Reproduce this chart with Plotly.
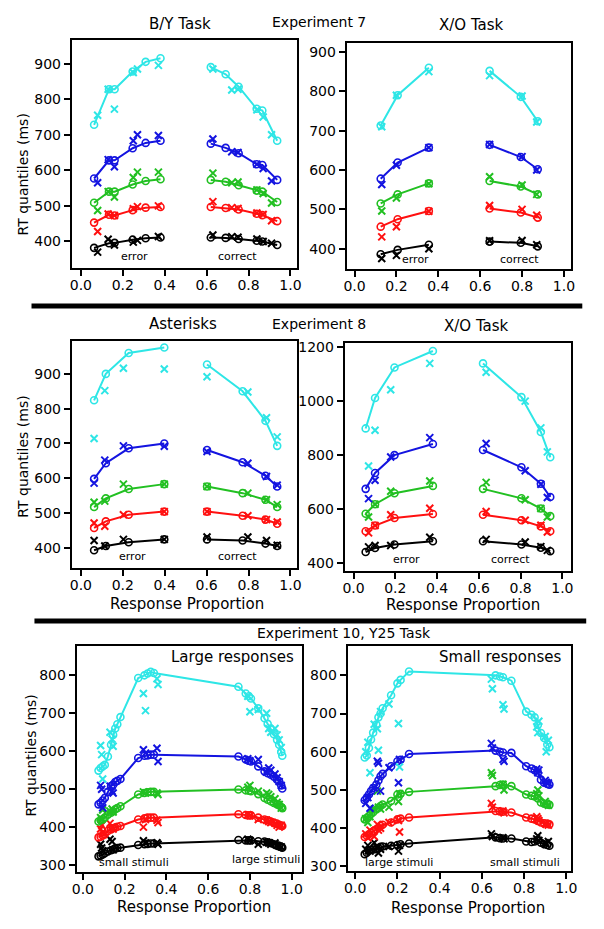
import plotly.graph_objects as go

W, H = 604, 929

# ---------------- data ----------------
# quantile order: .1 (black), .3 (red), .5 (green), .7 (blue), .9 (cyan)
QCOLORS = ["#000000", "#ff1010", "#22c022", "#1414e0", "#2ee6e6"]

# Experiment 7, B/Y task
E7BY_MP_ERR = [0.063, 0.134, 0.161, 0.247, 0.309, 0.38]
E7BY_MP_COR = [0.62, 0.691, 0.753, 0.839, 0.866, 0.937]
E7BY_M_ERR = [[382, 395, 396, 405, 409, 411], [453, 475, 473, 488, 495, 497],
              [509, 540, 540, 560, 570, 575], [577, 628, 628, 662, 677, 683],
              [728, 828, 828, 878, 905, 915]]
E7BY_M_COR = [[411, 410, 407, 402, 400, 390], [497, 494, 490, 478, 474, 457],
              [573, 568, 558, 543, 540, 511], [675, 663, 648, 617, 615, 573],
              [890, 870, 835, 773, 768, 683]]
E7BY_DP_ERR = [0.08, 0.13, 0.16, 0.25, 0.27, 0.37]
E7BY_DP_COR = [0.63, 0.72, 0.75, 0.84, 0.87, 0.91]
E7BY_D_ERR = [[370, 406, 390, 398, 403, 414], [428, 477, 473, 492, 498, 500],
              [487, 540, 525, 580, 595, 595], [565, 630, 610, 683, 700, 698],
              [755, 828, 772, 875, 885, 895]]
E7BY_D_COR = [[418, 413, 412, 407, 400, 395], [512, 495, 493, 480, 476, 458],
              [592, 565, 567, 545, 535, 508], [688, 652, 650, 617, 605, 570],
              [885, 826, 828, 770, 750, 700]]

# Experiment 7, X/O task
E7XO_MP_ERR = [0.125, 0.206, 0.355]
E7XO_MP_COR = [0.645, 0.794, 0.875]
E7XO_M_ERR = [[386, 397, 410], [456, 475, 496], [515, 538, 566], [578, 619, 657], [713, 790, 860]]
E7XO_M_COR = [[418, 415, 406], [502, 492, 479], [572, 558, 538], [664, 633, 602], [852, 786, 724]]
E7XO_DP_ERR = [0.13, 0.20, 0.355]
E7XO_DP_COR = [0.645, 0.80, 0.87]
E7XO_D_ERR = [[375, 383, 400], [430, 456, 495], [496, 529, 565], [563, 612, 657], [710, 790, 850]]
E7XO_D_COR = [[420, 421, 410], [510, 500, 485], [583, 562, 538], [665, 634, 600], [840, 788, 722]]

# Experiment 8, Asterisks
E8AS_MP_ERR = [0.063, 0.119, 0.228, 0.398]
E8AS_MP_COR = [0.602, 0.772, 0.881, 0.937]
E8AS_M_ERR = [[393, 405, 416, 424], [457, 476, 495, 504], [517, 542, 569, 583],
              [598, 643, 686, 700], [824, 900, 960, 976]]
E8AS_M_COR = [[424, 421, 412, 405], [504, 492, 481, 469], [576, 557, 538, 517],
              [681, 646, 607, 576], [927, 850, 765, 693]]
E8AS_DP_ERR = [0.063, 0.114, 0.203, 0.398]
E8AS_DP_COR = [0.602, 0.797, 0.886, 0.937]
E8AS_D_ERR = [[421, 405, 424, 424], [471, 462, 495, 504], [531, 534, 583, 583],
              [586, 652, 693, 692], [714, 852, 916, 914]]
E8AS_D_COR = [[431, 431, 421, 407], [504, 492, 481, 474], [576, 557, 538, 524],
              [677, 643, 605, 580], [892, 848, 774, 719]]

# Experiment 8, X/O task
E8XO_MP_ERR = [0.058, 0.103, 0.196, 0.38]
E8XO_MP_COR = [0.62, 0.804, 0.897, 0.942]
E8XO_M_ERR = [[442, 457, 470, 482], [519, 540, 568, 583], [584, 619, 660, 687],
              [676, 735, 801, 842], [900, 1013, 1126, 1187]]
E8XO_M_COR = [[482, 470, 458, 445], [580, 560, 537, 519], [676, 641, 603, 575],
              [820, 756, 695, 646], [1141, 1016, 887, 793]]
E8XO_DP_ERR = [0.072, 0.103, 0.178, 0.365]
E8XO_DP_COR = [0.635, 0.822, 0.897, 0.928]
E8XO_D_ERR = [[461, 466, 466, 497], [513, 540, 580, 604], [572, 619, 667, 705],
              [640, 708, 794, 866], [761, 893, 1043, 1141]]
E8XO_D_COR = [[489, 479, 462, 448], [592, 560, 541, 516], [700, 636, 603, 572],
              [844, 743, 693, 644], [1108, 1001, 902, 813]]

# Experiment 10, Y25 task, large responses
E10L_MP_LEFT = [0.075, 0.085, 0.095, 0.105, 0.12, 0.135, 0.145, 0.155, 0.165, 0.18, 0.265, 0.295, 0.31, 0.325, 0.34]
E10L_MP_RIGHT = [0.745, 0.78, 0.795, 0.805, 0.84, 0.87, 0.885, 0.9, 0.915, 0.93, 0.94, 0.95, 0.955]
E10L_M_LEFT = [[323, 325, 328, 331, 336, 339, 341, 344, 345, 346, 353, 355, 356, 357, 357],
               [373, 375, 378, 381, 390, 394, 397, 399, 401, 403, 420, 423, 425, 425, 425],
               [415, 418, 421, 425, 433, 438, 442, 447, 450, 455, 486, 490, 492, 493, 493],
               [460, 464, 470, 477, 493, 508, 512, 519, 522, 527, 582, 588, 589, 591, 591],
               [549, 556, 560, 564, 586, 617, 643, 660, 671, 690, 793, 800, 805, 809, 806]]
E10L_M_RIGHT = [[366, 365, 365, 365, 363, 362, 360, 358, 355, 352, 350, 348, 346],
                [434, 432, 431, 431, 425, 420, 418, 415, 412, 409, 406, 404, 403],
                [499, 497, 496, 495, 487, 477, 472, 468, 464, 460, 458, 453, 450],
                [586, 578, 575, 573, 560, 547, 542, 538, 533, 525, 521, 510, 502],
                [770, 752, 745, 739, 713, 687, 672, 660, 645, 630, 617, 598, 588]]
E10L_DP_LEFT = [0.085, 0.09, 0.095, 0.13, 0.14, 0.145, 0.29, 0.30, 0.355, 0.36]
E10L_DP_RIGHT = [0.79, 0.80, 0.84, 0.88, 0.89, 0.90, 0.92, 0.93, 0.94, 0.95]
E10L_D_LEFT = [[355, 345, 338, 368, 362, 340, 364, 358, 359, 355],
               [395, 405, 385, 410, 400, 395, 400, 420, 418, 412],
               [425, 420, 445, 442, 448, 440, 493, 490, 490, 486],
               [510, 500, 451, 508, 495, 490, 604, 595, 608, 573],
               [615, 591, 527, 650, 632, 613, 752, 707, 791, 776]]
E10L_D_RIGHT = [[368, 365, 355, 360, 358, 355, 358, 352, 350, 348],
                [433, 430, 420, 418, 415, 412, 410, 405, 400, 405],
                [505, 510, 495, 490, 486, 480, 475, 465, 460, 450],
                [580, 575, 578, 545, 556, 550, 540, 530, 520, 510],
                [745, 704, 710, 700, 660, 650, 660, 643, 630, 610]]

# Experiment 10, Y25 task, small responses
E10S_MP_LEFT = [0.045, 0.055, 0.065, 0.075, 0.085, 0.10, 0.11, 0.12, 0.13, 0.17, 0.20, 0.215, 0.255]
E10S_MP_RIGHT = [0.665, 0.685, 0.70, 0.74, 0.81, 0.835, 0.85, 0.865, 0.88, 0.895, 0.91, 0.92]
E10S_M_LEFT = [[332, 336, 341, 343, 344, 345, 348, 351, 352, 354, 356, 358, 360],
               [377, 380, 384, 388, 392, 397, 401, 406, 409, 415, 423, 425, 428],
               [423, 427, 432, 437, 442, 449, 453, 458, 462, 471, 488, 490, 495],
               [473, 480, 488, 497, 505, 514, 525, 536, 542, 562, 575, 579, 594],
               [585, 590, 610, 632, 650, 671, 690, 700, 714, 748, 779, 788, 810]]
E10S_M_RIGHT = [[376, 374, 373, 373, 365, 364, 365, 369, 362, 358, 356, 354],
                [445, 444, 443, 441, 428, 425, 423, 419, 415, 413, 412, 410],
                [510, 513, 514, 510, 488, 485, 483, 478, 467, 464, 462, 461],
                [603, 600, 598, 597, 562, 556, 552, 545, 527, 519, 516, 514],
                [800, 797, 795, 786, 705, 697, 690, 670, 649, 636, 619, 612]]
E10S_DP_LEFT = [0.05, 0.06, 0.07, 0.09, 0.105, 0.11, 0.12, 0.16, 0.205, 0.21]
E10S_DP_RIGHT = [0.645, 0.65, 0.70, 0.705, 0.86, 0.865, 0.87, 0.90, 0.905, 0.915]
E10S_D_LEFT = [[345, 355, 340, 362, 350, 335, 345, 352, 340, 355],
               [385, 375, 395, 378, 410, 395, 400, 415, 420, 390],
               [425, 415, 430, 450, 497, 455, 450, 455, 470, 490],
               [465, 480, 452, 505, 575, 570, 497, 558, 519, 580],
               [600, 625, 545, 672, 660, 604, 705, 725, 674, 560]]
E10S_D_RIGHT = [[385, 378, 375, 372, 372, 380, 368, 362, 358, 365],
                [465, 455, 445, 440, 430, 425, 420, 412, 410, 408],
                [545, 538, 515, 500, 490, 500, 485, 470, 465, 460],
                [622, 610, 580, 575, 555, 545, 552, 525, 520, 518],
                [790, 765, 723, 712, 665, 650, 680, 640, 600, 630]]

X_TICKS = [0.0, 0.2, 0.4, 0.6, 0.8, 1.0]
X_TICKTEXT = ["0.0", "0.2", "0.4", "0.6", "0.8", "1.0"]

# ---------------- layout geometry (pixels) ----------------
PANELS = [
    dict(box=(68, 37, 297, 267), xpx=(77.3, 290.7), yref=((900, 61), (400, 240)),
         yt=[400, 500, 600, 700, 800, 900], connect=False,
         m=(E7BY_MP_ERR, E7BY_M_ERR, E7BY_MP_COR, E7BY_M_COR),
         d=(E7BY_DP_ERR, E7BY_D_ERR, E7BY_DP_COR, E7BY_D_COR)),
    dict(box=(348, 40, 577, 268), xpx=(356, 569.3), yref=((900, 49.3), (400, 247.3)),
         yt=[400, 500, 600, 700, 800, 900], connect=False,
         m=(E7XO_MP_ERR, E7XO_M_ERR, E7XO_MP_COR, E7XO_M_COR),
         d=(E7XO_DP_ERR, E7XO_D_ERR, E7XO_DP_COR, E7XO_D_COR)),
    dict(box=(68, 340, 297, 569), xpx=(77.3, 290.7), yref=((900, 373.3), (400, 548.3)),
         yt=[400, 500, 600, 700, 800, 900], connect=False,
         m=(E8AS_MP_ERR, E8AS_M_ERR, E8AS_MP_COR, E8AS_M_COR),
         d=(E8AS_DP_ERR, E8AS_D_ERR, E8AS_DP_COR, E8AS_D_COR)),
    dict(box=(346, 342, 577, 572), xpx=(355, 567.7), yref=((1200, 346.7), (400, 564)),
         yt=[400, 600, 800, 1000, 1200], connect=False,
         m=(E8XO_MP_ERR, E8XO_M_ERR, E8XO_MP_COR, E8XO_M_COR),
         d=(E8XO_DP_ERR, E8XO_D_ERR, E8XO_DP_COR, E8XO_D_COR)),
    dict(box=(73, 647, 302, 875), xpx=(79.3, 292), yref=((800, 676.7), (300, 867.7)),
         yt=[300, 400, 500, 600, 700, 800], connect=True,
         m=(E10L_MP_LEFT, E10L_M_LEFT, E10L_MP_RIGHT, E10L_M_RIGHT),
         d=(E10L_DP_LEFT, E10L_D_LEFT, E10L_DP_RIGHT, E10L_D_RIGHT)),
    dict(box=(349, 647, 577, 874), xpx=(356.7, 571.7), yref=((800, 676.7), (300, 869)),
         yt=[300, 400, 500, 600, 700, 800], connect=True,
         m=(E10S_MP_LEFT, E10S_M_LEFT, E10S_MP_RIGHT, E10S_M_RIGHT),
         d=(E10S_DP_LEFT, E10S_D_LEFT, E10S_DP_RIGHT, E10S_D_RIGHT)),
]

FONT = "DejaVu Sans"

fig = go.Figure()
layout = dict(width=W, height=H, autosize=False, margin=dict(l=0, r=0, t=0, b=0),
              paper_bgcolor="white", plot_bgcolor="white", showlegend=False,
              font=dict(family=FONT, color="black"))

for i, p in enumerate(PANELS):
    n = "" if i == 0 else str(i + 1)
    xa, ya = "x" + n, "y" + n
    L, T, R, B = p["box"]
    x0, x1 = p["xpx"]
    (v1, p1), (v2, p2) = p["yref"]
    s = (v2 - v1) / (p2 - p1)
    xr = [(L - x0) / (x1 - x0), (R - x0) / (x1 - x0)]
    yr = [v1 + (B - p1) * s, v1 + (T - p1) * s]
    common = dict(showline=True, mirror=True, linecolor="black", linewidth=2,
                  ticks="outside", ticklen=6, tickwidth=1.5, tickcolor="black",
                  showgrid=False, zeroline=False, tickfont=dict(family=FONT, size=14, color="black"))
    layout["xaxis" + n] = dict(domain=[L / W, R / W], range=xr, anchor=ya,
                               tickvals=X_TICKS, ticktext=X_TICKTEXT, ticklabelstandoff=-3, **common)
    layout["yaxis" + n] = dict(domain=[1 - B / H, 1 - T / H], range=yr, anchor=xa,
                               tickvals=p["yt"], ticktext=[str(v) for v in p["yt"]], **common)

    mpl, ml, mpr, mr = p["m"]
    dpl, dl, dpr, dr = p["d"]
    gap_x = [] if p["connect"] else [None]
    for q in range(5):
        c = QCOLORS[q]
        fig.add_trace(go.Scatter(
            x=list(mpl) + gap_x + list(mpr), y=list(ml[q]) + gap_x + list(mr[q]),
            mode="lines+markers", xaxis=xa, yaxis=ya,
            line=dict(color=c, width=2),
            marker=dict(symbol="circle-open", size=7, color=c, line=dict(width=1.6, color=c))))
        fig.add_trace(go.Scatter(
            x=list(dpl) + list(dpr), y=list(dl[q]) + list(dr[q]),
            mode="markers", xaxis=xa, yaxis=ya,
            marker=dict(symbol="x-thin-open", size=7, color=c, line=dict(width=2, color=c))))

def px_ann(text, x, y, size=14, xanchor="center", angle=0):
    return dict(text=text, x=x / W, y=1 - y / H, xref="paper", yref="paper",
                xanchor=xanchor, yanchor="middle", showarrow=False, textangle=angle,
                font=dict(family=FONT, size=size, color="black"))

anns = [
    px_ann("B/Y Task", 178, 21, 15), px_ann("Experiment 7", 320, 19, 14), px_ann("X/O Task", 475, 22, 15),
    px_ann("Asterisks", 181, 323, 15), px_ann("Experiment 8", 320, 323, 14), px_ann("X/O Task", 480, 325, 15),
    px_ann("Experiment 10, Y25 Task", 345, 634, 14),
    px_ann("Large responses", 296, 658, 15, "right"), px_ann("Small responses", 569, 658, 15, "right"),
    px_ann("error", 132, 255, 11), px_ann("correct", 237, 255, 11),
    px_ann("error", 418, 258, 11), px_ann("correct", 524, 258, 11),
    px_ann("error", 130, 557, 11), px_ann("correct", 237, 557, 11),
    px_ann("error", 409, 560, 11), px_ann("correct", 515, 560, 11),
    px_ann("small stimuli", 131, 865, 11), px_ann("large stimuli", 266, 862, 11),
    px_ann("large stimuli", 401, 865, 11), px_ann("small stimuli", 530, 865, 11),
    px_ann("RT quantiles (ms)", 18, 173, 14, angle=-90),
    px_ann("RT quantiles (ms)", 18, 457, 14, angle=-90),
    px_ann("RT quantiles (ms)", 27, 758, 14, angle=-90),
    px_ann("Response Proportion", 185, 605, 15), px_ann("Response Proportion", 467, 606, 15),
    px_ann("Response Proportion", 192, 910, 15), px_ann("Response Proportion", 472, 911, 15),
]
layout["annotations"] = anns
layout["shapes"] = [
    dict(type="line", xref="paper", yref="paper", x0=27 / W, x1=588 / W, y0=1 - 305 / H, y1=1 - 305 / H,
         line=dict(color="black", width=5)),
    dict(type="line", xref="paper", yref="paper", x0=30 / W, x1=592 / W, y0=1 - 622 / H, y1=1 - 622 / H,
         line=dict(color="black", width=5)),
]
fig.update_layout(**layout)
fig.write_html("out.html", config={"displayModeBar": False},
               post_script="document.body.style.margin='0';document.body.style.overflow='hidden';")
